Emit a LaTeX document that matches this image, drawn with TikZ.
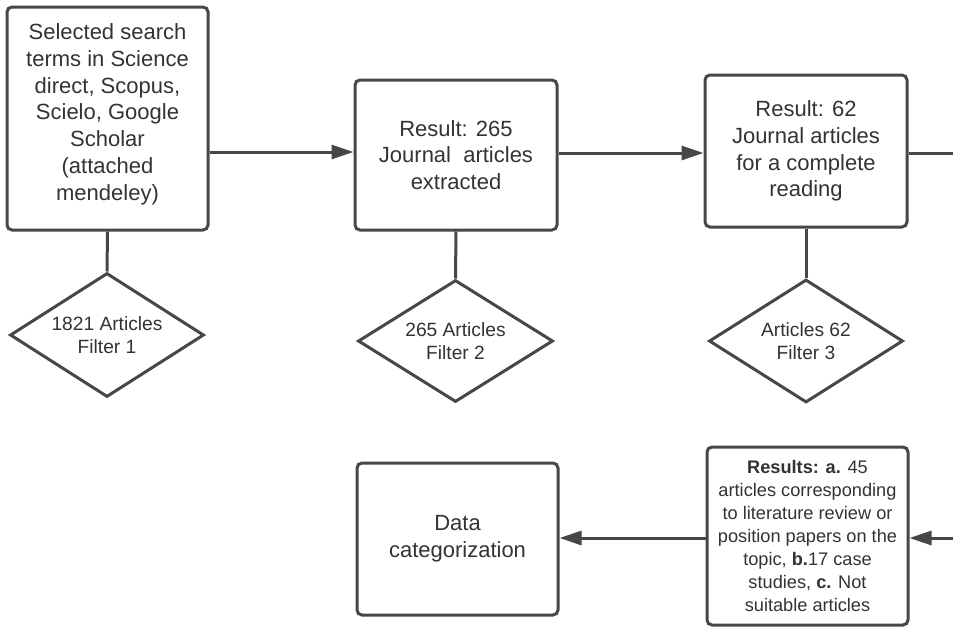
\documentclass[tikz,border=0pt]{standalone}
\usepackage{fontspec}
\setmainfont{Liberation Sans}
\usetikzlibrary{shapes.geometric,arrows.meta}
\definecolor{lc}{HTML}{474747}
\definecolor{tc}{HTML}{333333}
\tikzset{
  box/.style={draw=lc, line width=3pt, rounded corners=5pt, fill=white, text=tc,
    align=center, inner sep=0pt, font=\fontsize{22}{26.7}\selectfont},
  dia/.style={draw=lc, line width=3pt, diamond, shape aspect=1.57, fill=white, text=tc, align=center,
    inner sep=0pt, font=\fontsize{19.2}{23}\selectfont},
  conn/.style={draw=lc, line width=3pt},
  arr/.style={conn, -{Triangle[length=22pt,width=14pt]}}
}
\begin{document}
\begin{tikzpicture}[x=1pt,y=-1pt]
\useasboundingbox (0,0) rectangle (953,627);
\node[box, minimum width=201pt, minimum height=223pt, text depth=13pt] (b1) at (107.5,118.5)
  {Selected search\\terms in Science\\direct, Scopus,\\Scielo, Google\\Scholar\\(attached\\mendeley)};
\node[box, minimum width=202pt, minimum height=150pt] (b2) at (456,155)
  {Result: 265\\Journal\ \ articles\\extracted};
\node[box, minimum width=202pt, minimum height=152pt] (b3) at (806,151)
  {Result: 62\\Journal articles\\for a complete\\reading};
\node[box, minimum width=201pt, minimum height=178pt, font=\fontsize{18.2}{23}\selectfont] (b4) at (807.5,536)
  {\textbf{Results: a.} 45\\articles corresponding\\to literature review or\\position papers on the\\topic, \textbf{b.}17 case\\studies, \textbf{c.} Not\\suitable articles};
\node[box, minimum width=201pt, minimum height=152pt] (b5) at (457.5,539)
  {Data\\categorization};
\node[dia, minimum width=194pt, minimum height=124pt] (d1) at (107,335)
  {1821 Articles\\Filter 1};
\node[dia, minimum width=195pt, minimum height=122pt] (d2) at (455.5,341)
  {265 Articles\\Filter 2};
\node[dia, minimum width=194pt, minimum height=123pt] (d3) at (806,341)
  {Articles 62\\Filter 3};
\coordinate (e1) at (953,153);
\coordinate (e2) at (953,538);
\draw[arr] (b1.east |- b2.west) ++(0,-3) coordinate (a1) -- (a1 -| b2.west);
\draw[arr] (b2.east) ++(0,-2) coordinate (a2) -- (a2 -| b3.west);
\draw[conn] (b3.east |- e1) -- (e1);
\draw[arr] (e2) -- (e2 -| b4.east);
\draw[arr] (b4.west |- e2) -- (e2 -| b5.east);
\draw[conn] (b1.south) -- (d1.north);
\draw[conn] (b2.south) -- (d2.north);
\draw[conn] (b3.south) -- (d3.north);
\end{tikzpicture}
\end{document}
